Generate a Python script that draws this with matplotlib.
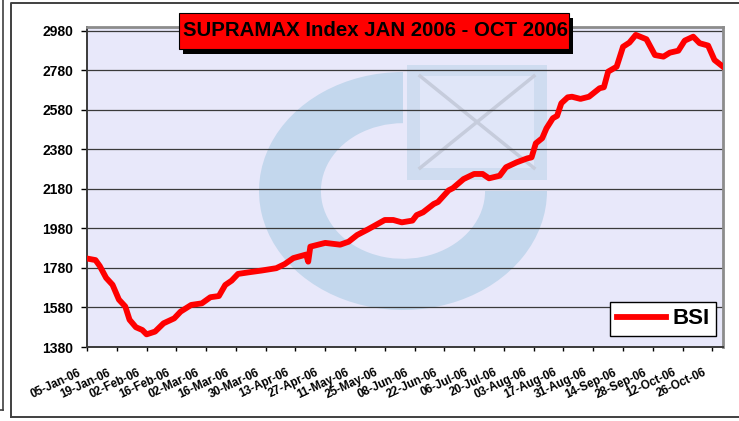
import matplotlib
matplotlib.use("Agg")
import matplotlib.pyplot as plt
import matplotlib.dates as mdates
from matplotlib.patches import Rectangle, Wedge
from matplotlib.lines import Line2D
from matplotlib.transforms import Affine2D, ScaledTranslation
import pandas as pd

# BSI (Supramax index) values
dates = [
    "2006-01-05", "2006-01-09", "2006-01-11", "2006-01-14", "2006-01-17",
    "2006-01-20", "2006-01-23", "2006-01-25", "2006-01-28", "2006-01-31",
    "2006-02-02", "2006-02-06", "2006-02-10", "2006-02-15", "2006-02-18",
    "2006-02-23", "2006-02-28", "2006-03-04", "2006-03-08", "2006-03-11",
    "2006-03-14", "2006-03-17", "2006-03-22", "2006-03-28", "2006-04-04",
    "2006-04-08", "2006-04-12", "2006-04-18", "2006-04-19", "2006-04-20",
    "2006-04-27", "2006-05-04", "2006-05-08", "2006-05-12", "2006-05-17",
    "2006-05-20", "2006-05-25", "2006-05-29", "2006-06-02", "2006-06-07",
    "2006-06-09", "2006-06-12", "2006-06-17", "2006-06-19", "2006-06-24",
    "2006-06-26", "2006-07-01", "2006-07-06", "2006-07-10", "2006-07-13",
    "2006-07-18", "2006-07-21", "2006-07-26", "2006-07-31", "2006-08-02",
    "2006-08-04", "2006-08-07", "2006-08-09", "2006-08-12", "2006-08-14",
    "2006-08-16", "2006-08-19", "2006-08-21", "2006-08-25", "2006-08-29",
    "2006-09-03", "2006-09-05", "2006-09-07", "2006-09-11", "2006-09-14",
    "2006-09-17", "2006-09-20", "2006-09-25", "2006-09-26", "2006-09-29",
    "2006-10-03", "2006-10-06", "2006-10-10", "2006-10-13", "2006-10-17",
    "2006-10-20", "2006-10-24", "2006-10-27", "2006-10-31",
]
bsi = [
    1828, 1820, 1790, 1730, 1695,
    1620, 1585, 1518, 1480, 1466,
    1444, 1458, 1500, 1525, 1559,
    1593, 1601, 1632, 1638, 1694,
    1716, 1750, 1758, 1767, 1779,
    1800, 1830, 1848, 1812, 1888,
    1907, 1898, 1913, 1947, 1975,
    1993, 2023, 2023, 2011, 2020,
    2048, 2062, 2104, 2114, 2173,
    2184, 2230, 2256, 2256, 2234,
    2247, 2290, 2315, 2335, 2340,
    2411, 2437, 2487, 2538, 2550,
    2614, 2644, 2647, 2636, 2647,
    2690, 2695, 2774, 2799, 2900,
    2921, 2960, 2938, 2918, 2858,
    2850, 2870, 2880, 2931, 2951,
    2918, 2906, 2833, 2799,
]
y_ticks = [1380, 1580, 1780, 1980, 2180, 2380, 2580, 2780, 2980]
x_ticks = pd.date_range("2006-01-05", "2006-10-26", freq="14D")
title = "SUPRAMAX Index JAN 2006 - OCT 2006"

W, H = 739, 421
plt.rcParams["font.family"] = ["Liberation Sans", "DejaVu Sans"]
plt.rcParams["font.weight"] = "bold"

fig = plt.figure(figsize=(W / 100, H / 100), dpi=100)
fig.patch.set_facecolor("white")
ax = fig.add_axes([87 / W, 74 / H, 636 / W, 320 / H])
ax.set_facecolor("#E8E8FA")

# pixel helpers (y down / y up)
px_down = Affine2D().scale(1 / W, -1 / H).translate(0, 1) + fig.transFigure
px_up = Affine2D().scale(1 / W, 1 / H) + fig.transFigure

# faint logo watermark behind the data
ring = Wedge((0, 0), 1, 90, 360, width=0.43, facecolor="#C3D7ED",
             edgecolor="none", zorder=0.2,
             transform=Affine2D().scale(144, 119).translate(403, H - 191) + px_up)
ax.add_patch(ring)
ax.add_patch(Rectangle((407, 65), 140, 115, facecolor="#CFDCF0", edgecolor="none",
                       zorder=0.2, transform=px_down))
ax.add_patch(Rectangle((420, 76), 114, 92, facecolor="#E0E6F8", edgecolor="none",
                       zorder=0.25, transform=px_down))
ax.add_line(Line2D([420, 534], [76, 168], color="#C6CCDC", lw=2.5, zorder=0.3,
                   transform=px_down))
ax.add_line(Line2D([420, 534], [168, 76], color="#C6CCDC", lw=2.5, zorder=0.3,
                   transform=px_down))

x = pd.to_datetime(dates)
ax.plot(x, bsi, color="#FF0000", lw=4.2, solid_joinstyle="round", label="BSI",
        zorder=3)

ax.set_ylim(1380, 3000)
ax.set_yticks(y_ticks)
ax.set_xlim(pd.Timestamp("2006-01-05"), pd.Timestamp("2006-10-31"))
ax.set_xticks(x_ticks)
ax.xaxis.set_major_formatter(mdates.DateFormatter("%d-%b-%y"))

ax.grid(axis="y", color="#3A3A3A", lw=0.9)
ax.grid(axis="x", visible=False)

ax.tick_params(axis="y", direction="out", length=4, width=1, pad=6,
               labelsize=10, colors="black")
ax.tick_params(axis="x", direction="out", length=3, width=1, pad=15,
               labelsize=8.4, colors="black")
for lab in ax.get_yticklabels():
    lab.set_fontweight("bold")
off = ScaledTranslation(-7 / 100, 0, fig.dpi_scale_trans)
for lab in ax.get_xticklabels():
    lab.set_rotation(25)
    lab.set_ha("right")
    lab.set_va("center")
    lab.set_rotation_mode("anchor")
    lab.set_fontweight("bold")
    lab.set_transform(lab.get_transform() + off)

for side in ["left", "bottom"]:
    ax.spines[side].set_color("#3A3A3A")
    ax.spines[side].set_linewidth(1.4)
for side in ["top", "right"]:
    ax.spines[side].set_color("#8C8C8C")
    ax.spines[side].set_linewidth(2)

leg = ax.legend(loc="lower right", bbox_to_anchor=(1 - 7 / 636, 11 / 320),
                borderaxespad=0, fancybox=False, framealpha=1,
                edgecolor="black", handlelength=2.2, handletextpad=0.3,
                borderpad=0.3, prop={"size": 16, "weight": "bold"})
leg.get_frame().set_linewidth(1)

# title box with drop shadow
fig.add_artist(Rectangle((183, 18), 390, 36, facecolor="black", edgecolor="none",
                         transform=px_down))
fig.add_artist(Rectangle((179, 13), 390, 36, facecolor="#FF0000", edgecolor="black",
                         lw=0.8, transform=px_down))
fig.text(375 / W, 1 - 31 / H, title, ha="center", va="center", fontsize=14.7,
         fontweight="bold", color="black")

# outer chart frames
fig.add_artist(Line2D([3, 3], [0, 410], color="#404040", lw=1.2, transform=px_down))
fig.add_artist(Line2D([0, 3], [410, 410], color="#404040", lw=1.2, transform=px_down))
fig.add_artist(Line2D([11, 11, 745], [417, 3, 3], color="#404040", lw=1.4,
                      transform=px_down))
fig.add_artist(Line2D([11, 745], [417, 417], color="#404040", lw=1.4,
                      transform=px_down))

fig.savefig("out.png", dpi=100)
